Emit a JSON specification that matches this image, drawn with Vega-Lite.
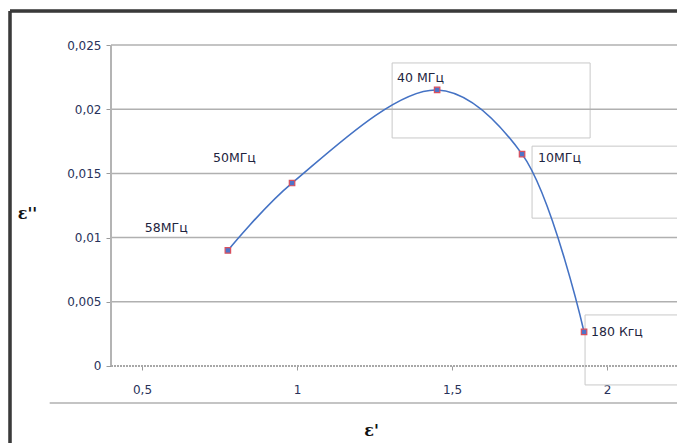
{
  "$schema": "https://vega.github.io/schema/vega-lite/v6.json",
  "width": 667,
  "height": 432,
  "padding": {"left": 10, "top": 11, "right": 0, "bottom": 0},
  "autosize": {"type": "none"},
  "background": "white",
  "config": {"view": {"stroke": null}},
  "resolve": {"axis": {"x": "independent", "y": "independent"}},
  "datasets": {
    "points": [
      {"eps1": 0.777, "eps2": 0.0090, "label": "58МГц"},
      {"eps1": 0.984, "eps2": 0.01425, "label": "50МГц"},
      {"eps1": 1.452, "eps2": 0.0215, "label": "40 МГц"},
      {"eps1": 1.726, "eps2": 0.0165, "label": "10МГц"},
      {"eps1": 1.926, "eps2": 0.00265, "label": "180 Кгц"}
    ],
    "grid": [
      {"v": 0.005}, {"v": 0.01}, {"v": 0.015}, {"v": 0.02}, {"v": 0.025}
    ]
  },
  "data": {"name": "points"},
  "layer": [
    {
      "mark": {"type": "rect", "fill": "transparent", "stroke": "#c8c8c8", "strokeWidth": 1, "xOffset": -45, "x2Offset": 153, "yOffset": -27, "y2Offset": 48},
      "transform": [{"filter": "datum.label === '40 МГц'"}],
      "encoding": {
        "x": {"field": "eps1", "type": "quantitative", "axis": null},
        "x2": {"field": "eps1"},
        "y": {"field": "eps2", "type": "quantitative", "axis": null},
        "y2": {"field": "eps2"}
      }
    },
    {
      "mark": {"type": "rect", "fill": "transparent", "stroke": "#c8c8c8", "strokeWidth": 1, "xOffset": 10, "x2Offset": 200, "yOffset": -8, "y2Offset": 64},
      "transform": [{"filter": "datum.label === '10МГц'"}],
      "encoding": {
        "x": {"field": "eps1", "type": "quantitative", "axis": null},
        "x2": {"field": "eps1"},
        "y": {"field": "eps2", "type": "quantitative", "axis": null},
        "y2": {"field": "eps2"}
      }
    },
    {
      "mark": {"type": "rect", "fill": "transparent", "stroke": "#c8c8c8", "strokeWidth": 1, "xOffset": 1, "x2Offset": 150, "yOffset": -17, "y2Offset": 53},
      "transform": [{"filter": "datum.label === '180 Кгц'"}],
      "encoding": {
        "x": {"field": "eps1", "type": "quantitative", "axis": null},
        "x2": {"field": "eps1"},
        "y": {"field": "eps2", "type": "quantitative", "axis": null},
        "y2": {"field": "eps2"}
      }
    },
    {
      "data": {"name": "grid"},
      "mark": {"type": "rule", "color": "#b0b0b0", "strokeWidth": 1.5},
      "encoding": {
        "y": {"field": "v", "type": "quantitative", "axis": null},
        "x": {"datum": 0.4, "type": "quantitative", "axis": null},
        "x2": {"datum": 2.2258}
      }
    },
    {
      "mark": {"type": "rule", "color": "#b4b4b4", "strokeWidth": 1.5},
      "encoding": {
        "x": {"datum": 0.4, "type": "quantitative", "axis": null},
        "y": {"datum": 0, "type": "quantitative", "axis": null},
        "y2": {"datum": 0.025}
      }
    },
    {
      "mark": {"type": "rule", "color": "#a8a8a8", "strokeWidth": 1.5, "strokeDash": [2, 1]},
      "encoding": {
        "y": {"datum": 0, "type": "quantitative", "axis": null},
        "x": {"datum": 0.4, "type": "quantitative", "axis": null},
        "x2": {"datum": 2.2258}
      }
    },
    {
      "mark": {"type": "rule", "color": "#c4c4c4", "strokeWidth": 2},
      "encoding": {
        "y": {"datum": -0.00288, "type": "quantitative", "axis": null},
        "x": {"datum": 0.203, "type": "quantitative", "axis": null},
        "x2": {"datum": 2.2258}
      }
    },
    {
      "mark": {"type": "rule", "color": "#3a3a3a", "strokeWidth": 2.5},
      "encoding": {
        "x": {"datum": 0.0742, "type": "quantitative", "axis": null},
        "y": {"datum": -0.006, "type": "quantitative", "axis": null},
        "y2": {"datum": 0.02765}
      }
    },
    {
      "mark": {"type": "rule", "color": "#3a3a3a", "strokeWidth": 2.5},
      "encoding": {
        "y": {"datum": 0.02765, "type": "quantitative", "axis": null},
        "x": {"datum": 0.0742, "type": "quantitative", "axis": null},
        "x2": {"datum": 2.2258}
      }
    },
    {
      "mark": {"type": "line", "interpolate": "catmull-rom", "color": "#4472c4", "strokeWidth": 1.6},
      "encoding": {
        "x": {
          "field": "eps1",
          "type": "quantitative",
          "scale": {"domain": [0.0742, 2.2258], "nice": false, "zero": false},
          "axis": {
            "orient": "bottom",
            "offset": -77,
            "domain": false,
            "grid": false,
            "values": [0.5, 1, 1.5, 2],
            "labelExpr": "replace(format(datum.value, '.1~f'), '.', ',')",
            "tickSize": 4,
            "tickColor": "#9a9a9a",
            "labelPadding": 14,
            "labelFont": "DejaVu Sans",
            "labelFontSize": 12,
            "labelColor": "#28325a",
            "title": "ε'",
            "titleFont": "DejaVu Serif",
            "titleFontSize": 16,
            "titleFontWeight": "bold",
            "titleColor": "#111111",
            "titleX": 361,
            "titleY": 64,
            "titleAlign": "center",
            "titleBaseline": "middle"
          }
        },
        "y": {
          "field": "eps2",
          "type": "quantitative",
          "scale": {"domain": [-0.006, 0.02765], "nice": false, "zero": false},
          "axis": {
            "orient": "left",
            "offset": -101,
            "domain": false,
            "grid": false,
            "values": [0, 0.005, 0.01, 0.015, 0.02, 0.025],
            "labelExpr": "replace(format(datum.value, '.3~f'), '.', ',')",
            "tickSize": 5,
            "tickColor": "#9a9a9a",
            "labelPadding": 5,
            "labelFont": "DejaVu Sans",
            "labelFontSize": 12,
            "labelColor": "#28325a",
            "title": "ε''",
            "titleFont": "DejaVu Serif",
            "titleFontSize": 16,
            "titleFontWeight": "bold",
            "titleColor": "#111111",
            "titleAngle": 0,
            "titleX": -84,
            "titleY": 202,
            "titleAlign": "center",
            "titleBaseline": "middle"
          }
        }
      }
    },
    {
      "mark": {"type": "point", "shape": "square", "filled": true, "size": 30, "fill": "#4f73c8", "stroke": "#d9505e", "strokeWidth": 1.2, "opacity": 1},
      "encoding": {
        "x": {"field": "eps1", "type": "quantitative", "axis": null},
        "y": {"field": "eps2", "type": "quantitative", "axis": null}
      }
    },
    {
      "mark": {"type": "text", "align": "left", "baseline": "middle", "dx": -83, "dy": -22, "font": "DejaVu Sans", "fontSize": 12.5, "color": "#1e2440"},
      "transform": [{"filter": "datum.label === '58МГц'"}],
      "encoding": {
        "x": {"field": "eps1", "type": "quantitative", "axis": null},
        "y": {"field": "eps2", "type": "quantitative", "axis": null},
        "text": {"field": "label"}
      }
    },
    {
      "mark": {"type": "text", "align": "left", "baseline": "middle", "dx": -79, "dy": -25, "font": "DejaVu Sans", "fontSize": 12.5, "color": "#1e2440"},
      "transform": [{"filter": "datum.label === '50МГц'"}],
      "encoding": {
        "x": {"field": "eps1", "type": "quantitative", "axis": null},
        "y": {"field": "eps2", "type": "quantitative", "axis": null},
        "text": {"field": "label"}
      }
    },
    {
      "mark": {"type": "text", "align": "left", "baseline": "middle", "dx": -40, "dy": -12, "font": "DejaVu Sans", "fontSize": 12.5, "color": "#1e2440"},
      "transform": [{"filter": "datum.label === '40 МГц'"}],
      "encoding": {
        "x": {"field": "eps1", "type": "quantitative", "axis": null},
        "y": {"field": "eps2", "type": "quantitative", "axis": null},
        "text": {"field": "label"}
      }
    },
    {
      "mark": {"type": "text", "align": "left", "baseline": "middle", "dx": 16, "dy": 4, "font": "DejaVu Sans", "fontSize": 12.5, "color": "#1e2440"},
      "transform": [{"filter": "datum.label === '10МГц'"}],
      "encoding": {
        "x": {"field": "eps1", "type": "quantitative", "axis": null},
        "y": {"field": "eps2", "type": "quantitative", "axis": null},
        "text": {"field": "label"}
      }
    },
    {
      "mark": {"type": "text", "align": "left", "baseline": "middle", "dx": 7, "dy": 0, "font": "DejaVu Sans", "fontSize": 12.5, "color": "#1e2440"},
      "transform": [{"filter": "datum.label === '180 Кгц'"}],
      "encoding": {
        "x": {"field": "eps1", "type": "quantitative", "axis": null},
        "y": {"field": "eps2", "type": "quantitative", "axis": null},
        "text": {"field": "label"}
      }
    }
  ]
}
